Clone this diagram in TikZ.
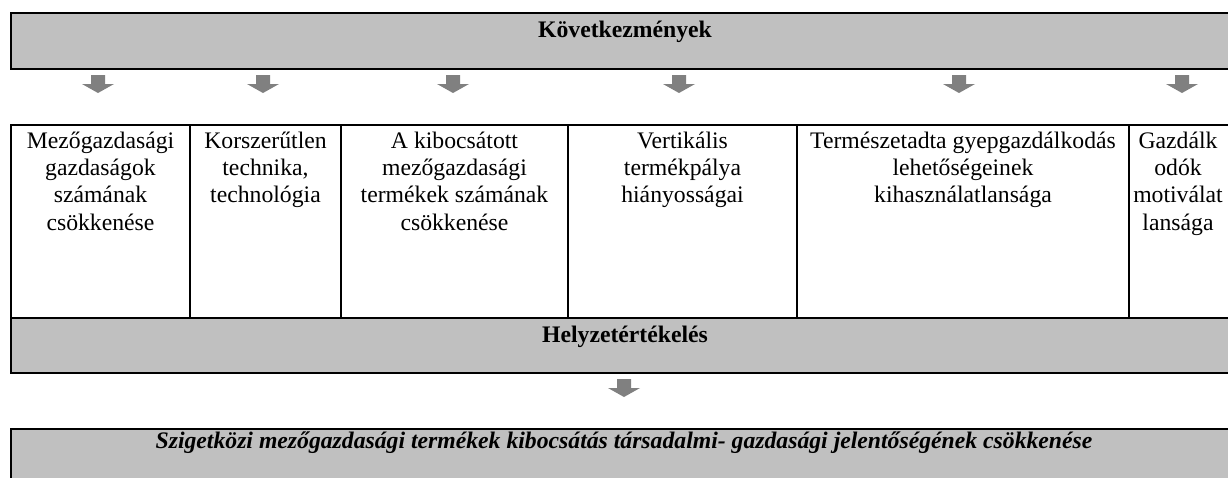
\documentclass[tikz,border=0pt]{standalone}
\usepackage{fontspec}
\setmainfont{Liberation Serif}
\definecolor{boxgray}{HTML}{C0C0C0}
\definecolor{arrowgray}{HTML}{808080}
\newcommand\bodyfont{\fontsize{23.7pt}{27.3pt}\selectfont}
\tikzset{
  graybox/.style={draw=black, line width=1.8pt, fill=boxgray, inner sep=0pt, outer sep=0pt, anchor=north west, minimum width=1229pt},
  cellbox/.style={draw=black, line width=1.8pt, inner sep=0pt, outer sep=0pt, anchor=north west, minimum height=193pt},
  celltext/.style={anchor=north, inner sep=0pt, align=center, font=\bodyfont},
  headtext/.style={anchor=base, inner sep=0pt, font=\bodyfont\bfseries},
  darrow/.pic={\fill[arrowgray] (-7,-9) -- (7,-9) -- (7,0) -- (16,0) -- (0,9) -- (-16,0) -- (-7,0) -- cycle;}
}
\begin{document}
\begin{tikzpicture}[x=1pt, y=-1pt]
\useasboundingbox (0,0) rectangle (1228,477);
\clip (0,0) rectangle (1228,477);
% top box
\node[graybox, minimum height=56pt] (top) at (11,13) {};
\node[headtext] (toptext) at (625,37) {Következmények};
% arrows
\pic (a1) at (98,84) {darrow};
\pic (a2) at (263,84) {darrow};
\pic (a3) at (453,84) {darrow};
\pic (a4) at (679,84) {darrow};
\pic (a5) at (959,84) {darrow};
\pic (a6) at (1182,84) {darrow};
% cells
\node[cellbox, minimum width=179pt] (c1) at (11,125) {};
\node[cellbox, minimum width=151pt] (c2) at (190,125) {};
\node[cellbox, minimum width=227pt] (c3) at (341,125) {};
\node[cellbox, minimum width=229pt] (c4) at (568,125) {};
\node[cellbox, minimum width=332pt] (c5) at (797,125) {};
\node[cellbox, minimum width=111pt] (c6) at (1129,125) {};
\node[celltext] (t1) at (100.5,128.9) {\strut Mezőgazdasági\\\strut gazdaságok\\\strut számának\\\strut csökkenése};
\node[celltext] (t2) at (265.5,128.9) {\strut Korszerűtlen\\\strut technika,\\\strut technológia};
\node[celltext] (t3) at (454.5,128.9) {\strut A kibocsátott\\\strut mezőgazdasági\\\strut termékek számának\\\strut csökkenése};
\node[celltext] (t4) at (682.5,128.9) {\strut Vertikális\\\strut termékpálya\\\strut hiányosságai};
\node[celltext] (t5) at (963,128.9) {\strut Természetadta gyepgazdálkodás\\\strut lehetőségeinek\\\strut kihasználatlansága};
\node[celltext] (t6) at (1178,128.9) {\strut Gazdálk\\\strut odók\\\strut motiválat\\\strut lansága};
% situation box
\node[graybox, minimum height=55pt] (helyzet) at (11,318) {};
\node[headtext] (helyzettext) at (625,342) {Helyzetértékelés};
\pic (a7) at (624,388) {darrow};
% bottom box
\node[graybox, minimum height=70pt] (bottom) at (11,429) {};
\node[headtext, font=\bodyfont\bfseries\itshape] (bottomtext) at (624,448) {Szigetközi mezőgazdasági termékek kibocsátás társadalmi- gazdasági jelentőségének csökkenése};
\end{tikzpicture}
\end{document}
